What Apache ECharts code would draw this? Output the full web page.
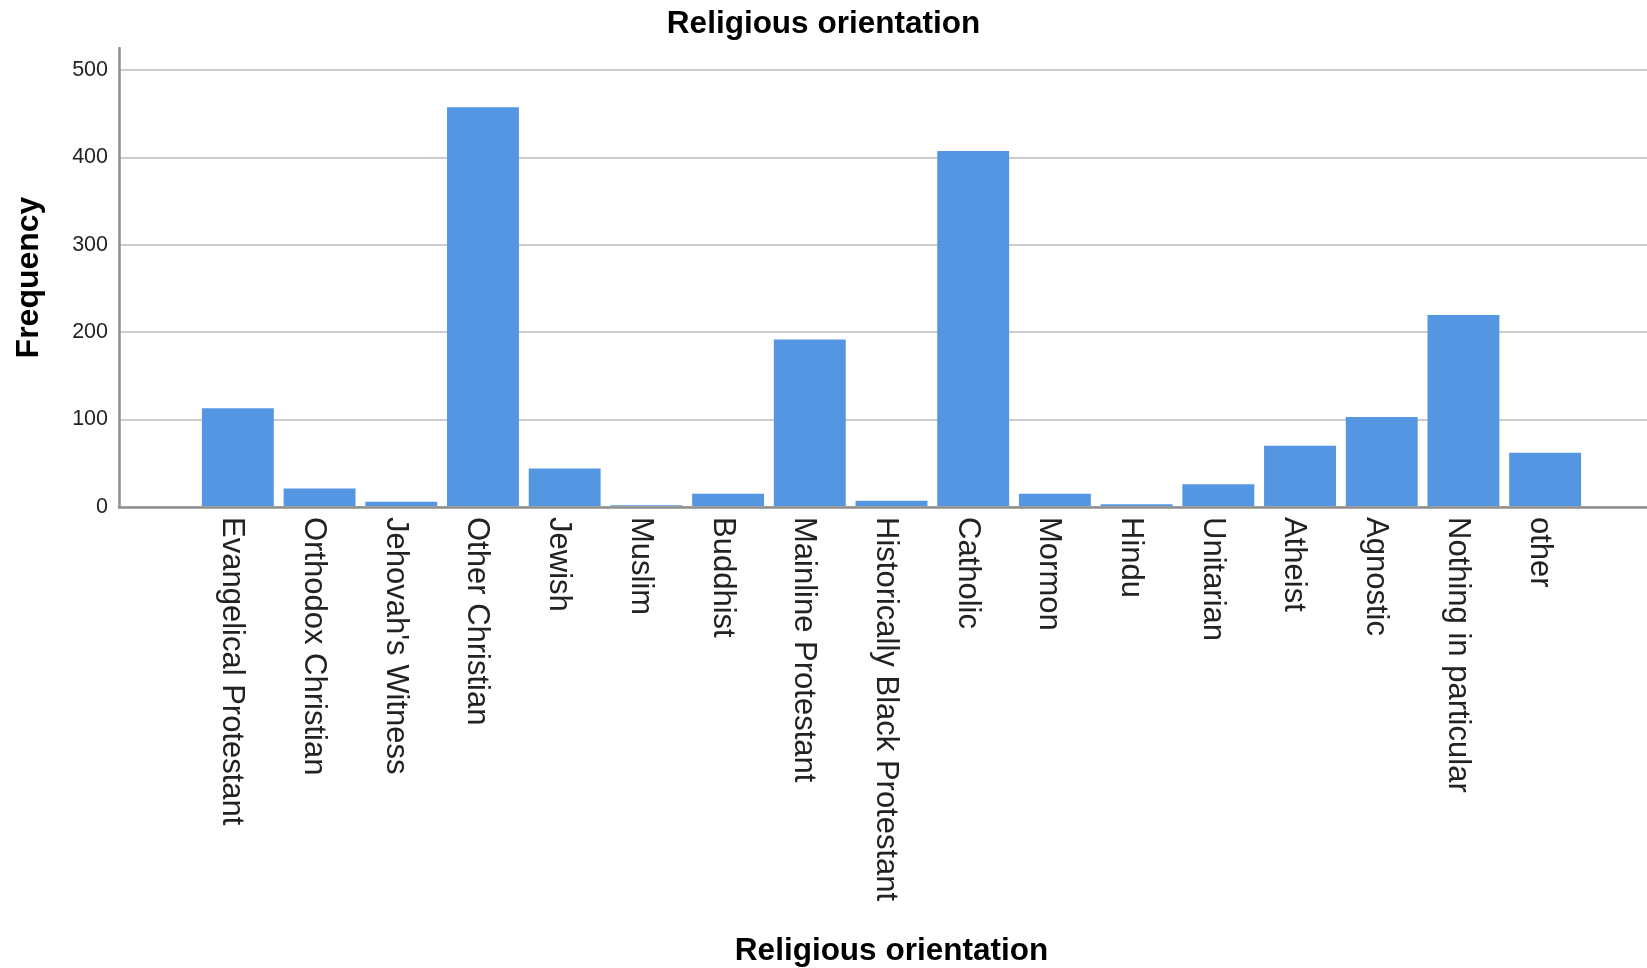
<!DOCTYPE html>
<html>
<head>
<meta charset="utf-8">
<script src="https://cdn.jsdelivr.net/npm/echarts@6/dist/echarts.min.js"></script>
<style>
html,body{margin:0;padding:0;background:#fff;}
#chart{width:1647px;height:968px;}
</style>
</head>
<body>
<div id="chart"></div>
<script>
const categories = ["Evangelical Protestant","Orthodox Christian","Jehovah's Witness","Other Christian","Jewish","Muslim","Buddhist","Mainline Protestant","Historically Black Protestant","Catholic","Mormon","Hindu","Unitarian","Atheist","Agnostic","Nothing in particular","other"];
const frequency = [112, 20, 5, 457, 43, 1, 14, 191, 6, 407, 14, 2, 25, 69, 102, 219, 61];
const yTicks = [0, 100, 200, 300, 400, 500];

const FONT = "'Liberation Sans', Arial, sans-serif";
const chart = echarts.init(document.getElementById('chart'), null, {renderer: 'canvas'});
const yMax = 525;
chart.setOption({
  animation: false,
  backgroundColor: '#ffffff',
  title: {
    text: 'Religious orientation',
    left: 'center',
    top: 3,
    textStyle: {fontFamily: FONT, fontSize: 31.5, fontWeight: 'bold', color: '#000'}
  },
  grid: [
    {left: 119, right: 0, top: 48, bottom: 461},
    {left: 197, right: 61, top: 48, bottom: 461}
  ],
  xAxis: [
    {
      gridIndex: 0, type: 'value', min: 0, max: 1,
      axisLine: {show: true, lineStyle: {color: '#8e8e8e', width: 2.5}},
      axisTick: {show: false}, axisLabel: {show: false}, splitLine: {show: false}
    },
    {
      gridIndex: 1, type: 'category', data: categories,
      axisLine: {show: false}, axisTick: {show: false},
      axisLabel: {rotate: -90, interval: 0, margin: 11, verticalAlign: 'top', lineHeight: 12,
        fontFamily: FONT, fontSize: 31, color: '#222'},
      name: 'Religious orientation', nameLocation: 'middle', nameGap: 429,
      nameTextStyle: {fontFamily: FONT, fontSize: 31.5, fontWeight: 'bold', color: '#000'}
    }
  ],
  yAxis: [
    {
      gridIndex: 0, type: 'value', min: 0, max: yMax, interval: 100,
      axisLine: {show: true, lineStyle: {color: '#8e8e8e', width: 2.5}},
      axisTick: {show: false},
      axisLabel: {
        margin: 11, fontFamily: FONT, fontSize: 21.5, color: '#222', showMaxLabel: false,
        formatter: v => (yTicks.indexOf(v) >= 0 ? String(v) : '')
      },
      splitLine: {show: true, showMaxLine: false, lineStyle: {color: '#cccccc', width: 2}},
      name: 'Frequency', nameLocation: 'middle', nameGap: 74,
      nameTextStyle: {fontFamily: FONT, fontSize: 32, fontWeight: 'bold', color: '#000'}
    },
    {
      gridIndex: 1, type: 'value', min: 0, max: yMax, show: false
    }
  ],
  series: [{
    type: 'bar',
    xAxisIndex: 1, yAxisIndex: 1,
    data: frequency,
    barCategoryGap: '12%',
    itemStyle: {color: '#5596e3'}
  }]
});
</script>
</body>
</html>
